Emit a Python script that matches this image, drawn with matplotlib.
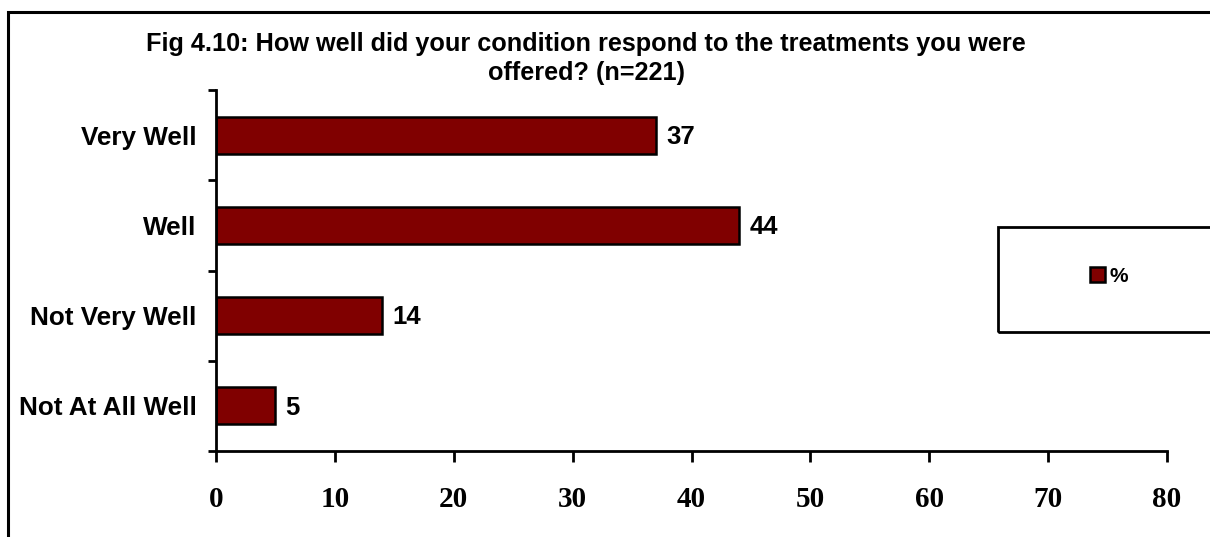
"""Horizontal bar chart: treatment response (Fig 4.10)."""

import matplotlib

matplotlib.use("Agg")
import matplotlib.pyplot as plt
from matplotlib.patches import Rectangle, Patch

categories = ["Very Well", "Well", "Not Very Well", "Not At All Well"]
percent = [37, 44, 14, 5]
x_ticks = [0, 10, 20, 30, 40, 50, 60, 70, 80]
title_lines = ["Fig 4.10: How well did your condition respond to the treatments you were",
               "offered? (n=221)"]
series_name = "%"

BAR_COLOR = "#800000"
W, H = 1210, 537


def fx(px):
    return px / W


def fy(py):
    return 1 - py / H


fig = plt.figure(figsize=(W / 100, H / 100), dpi=100)
fig.patch.set_facecolor("white")

# outer chart frame, running off the right and bottom edges
fig.patches.append(Rectangle((fx(8), fy(560)), fx(1230) - fx(8), fy(12) - fy(560),
                             transform=fig.transFigure, fill=False, lw=2.2,
                             edgecolor="black", clip_on=False))

ax = fig.add_axes([fx(216), fy(451), fx(1167) - fx(216), fy(90) - fy(451)])
pos = list(range(len(categories)))
bars = ax.barh(pos, percent, height=0.41, color=BAR_COLOR, edgecolor="black", linewidth=1.8)
ax.set_ylim(len(categories) - 0.5, -0.5)
ax.set_xlim(0, 80)

for spine in ("top", "right"):
    ax.spines[spine].set_visible(False)
for spine in ("left", "bottom"):
    ax.spines[spine].set_linewidth(2)

ax.set_yticks(pos, labels=categories)
ax.set_yticks([p - 0.5 for p in pos] + [len(categories) - 0.5], minor=True)
ax.tick_params(axis="y", which="major", length=0, pad=14)
ax.tick_params(axis="y", which="minor", length=6, width=2, direction="out")
for lab in ax.get_yticklabels():
    lab.set_fontfamily("Liberation Sans")
    lab.set_fontweight("bold")
    lab.set_fontsize(18.8)

ax.set_xticks(x_ticks)
ax.tick_params(axis="x", length=8, width=2, direction="out", pad=17)
for lab in ax.get_xticklabels():
    lab.set_fontfamily("Liberation Serif")
    lab.set_fontweight("bold")
    lab.set_fontsize(21)

for bar, val in zip(bars, percent):
    ax.text(bar.get_width() + 0.85, bar.get_y() + bar.get_height() / 2 + 0.02, str(val),
            ha="left", va="center", fontfamily="Liberation Sans",
            fontweight="bold", fontsize=18.5)

for line, base in zip(title_lines, [51, 80]):
    fig.text(fx(586), fy(base), line, ha="center", va="baseline", fontfamily="Liberation Sans",
             fontweight="bold", fontsize=18.2)

# legend box, also running off the right edge
fig.patches.append(Rectangle((fx(998), fy(332)), fx(1230) - fx(998), fy(227) - fy(332),
                             transform=fig.transFigure, fill=False, lw=2,
                             edgecolor="black", clip_on=False))
fig.legend(handles=[Patch(facecolor=BAR_COLOR, edgecolor="black", linewidth=1.8, label=series_name)],
           loc="center", bbox_to_anchor=(fx(1109), fy(276)), frameon=False,
           handlelength=0.75, handleheight=0.75, handletextpad=0.2,
           prop={"family": "Liberation Sans", "weight": "bold", "size": 15})

fig.savefig("out.png", dpi=100)
